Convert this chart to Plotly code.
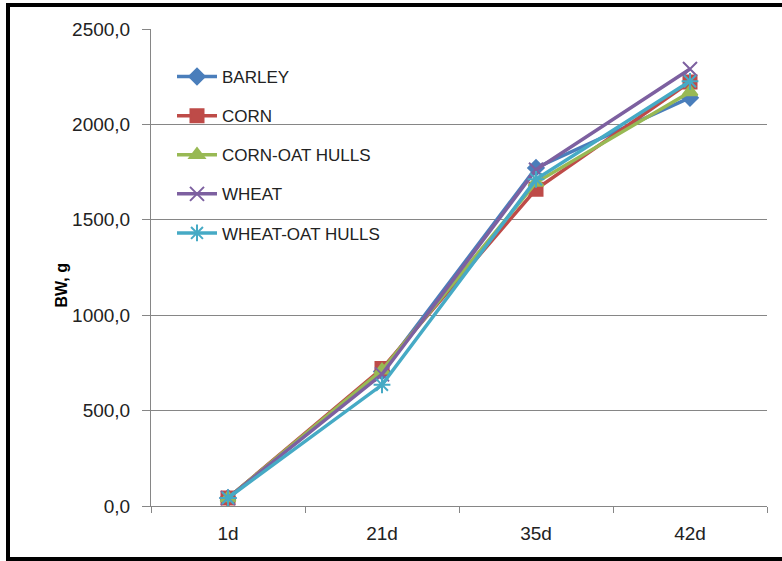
import plotly.graph_objects as go

categories = ["1d", "21d", "35d", "42d"]
barley = [42, 705, 1772, 2140]
corn = [42, 720, 1660, 2222]
corn_oat = [42, 712, 1695, 2170]
wheat = [42, 690, 1762, 2290]
wheat_oat = [42, 635, 1712, 2226]

series_names = ["BARLEY", "CORN", "CORN-OAT HULLS", "WHEAT", "WHEAT-OAT HULLS"]
series_values = [barley, corn, corn_oat, wheat, wheat_oat]
colors = ["#4A7EBB", "#BE4B48", "#98B954", "#7D60A0", "#46AAC5"]
symbols = ["diamond", "square", "triangle-up", "x-thin-open", "asterisk-open"]
sizes = [12, 13, 13, 14, 14]

y_ticks = [0, 500, 1000, 1500, 2000, 2500]
y_ticklabels = ["0,0", "500,0", "1000,0", "1500,0", "2000,0", "2500,0"]

FONT = "Liberation Sans"

fig = go.Figure()
for i, (name, vals) in enumerate(zip(series_names, series_values)):
    fig.add_trace(go.Scatter(
        x=categories, y=vals, name=name, mode="lines+markers",
        line=dict(color=colors[i], width=3.5),
        marker=dict(symbol=symbols[i], size=sizes[i], color=colors[i],
                    line=dict(color=colors[i], width=2)),
        legendgroup=name,
    ))

W, H = 782, 561
L, R, T, B = 151, 15, 29, 55
pw, ph = W - L - R, H - T - B


def px_x(px):
    return (px - L) / pw


def px_y(py):
    return (H - B - py) / ph


fig.update_layout(
    width=W, height=H,
    margin=dict(l=L, r=R, t=T, b=B),
    paper_bgcolor="white", plot_bgcolor="white",
    font=dict(family=FONT, size=19, color="#222222"),
    showlegend=True,
    legend=dict(
        x=px_x(172), y=px_y(59), xanchor="left", yanchor="top",
        bgcolor="rgba(0,0,0,0)", font=dict(family=FONT, size=17, color="#222222"),
        traceorder="grouped", tracegroupgap=14, itemwidth=40,
    ),
    xaxis=dict(
        type="category", tickson="boundaries", ticks="outside", ticklen=6,
        tickcolor="#868686", showline=True, linecolor="#868686", linewidth=1,
        showgrid=False, tickfont=dict(family=FONT, size=19, color="#222222"),
        range=[-0.5, 3.5], ticklabelstandoff=10,
    ),
    yaxis=dict(
        range=[0, 2500], tickvals=y_ticks, ticktext=y_ticklabels,
        ticks="outside", ticklen=8, tickcolor="#868686",
        showline=True, linecolor="#868686", linewidth=1,
        showgrid=True, gridcolor="#868686", gridwidth=1, zeroline=False,
        tickfont=dict(family=FONT, size=19, color="#222222"),
        ticklabelstandoff=8,
    ),
    annotations=[dict(
        text="<b>BW, g</b>", textangle=-90, xref="paper", yref="paper",
        x=px_x(50), y=px_y(285), showarrow=False,
        font=dict(family=FONT, size=16, color="#000000"),
    )],
    shapes=[
        dict(type="line", xref="paper", yref="paper", x0=px_x(8), x1=px_x(8),
             y0=px_y(3), y1=px_y(561), line=dict(color="black", width=4)),
        dict(type="line", xref="paper", yref="paper", x0=px_x(6), x1=px_x(800),
             y0=px_y(5), y1=px_y(5), line=dict(color="black", width=4)),
        dict(type="line", xref="paper", yref="paper", x0=px_x(6), x1=px_x(800),
             y0=px_y(559), y1=px_y(559), line=dict(color="black", width=4)),
    ],
)

fig.write_html("out.html", config={"displayModeBar": False},
               post_script="document.body.style.margin='0';document.body.style.padding='0';")
